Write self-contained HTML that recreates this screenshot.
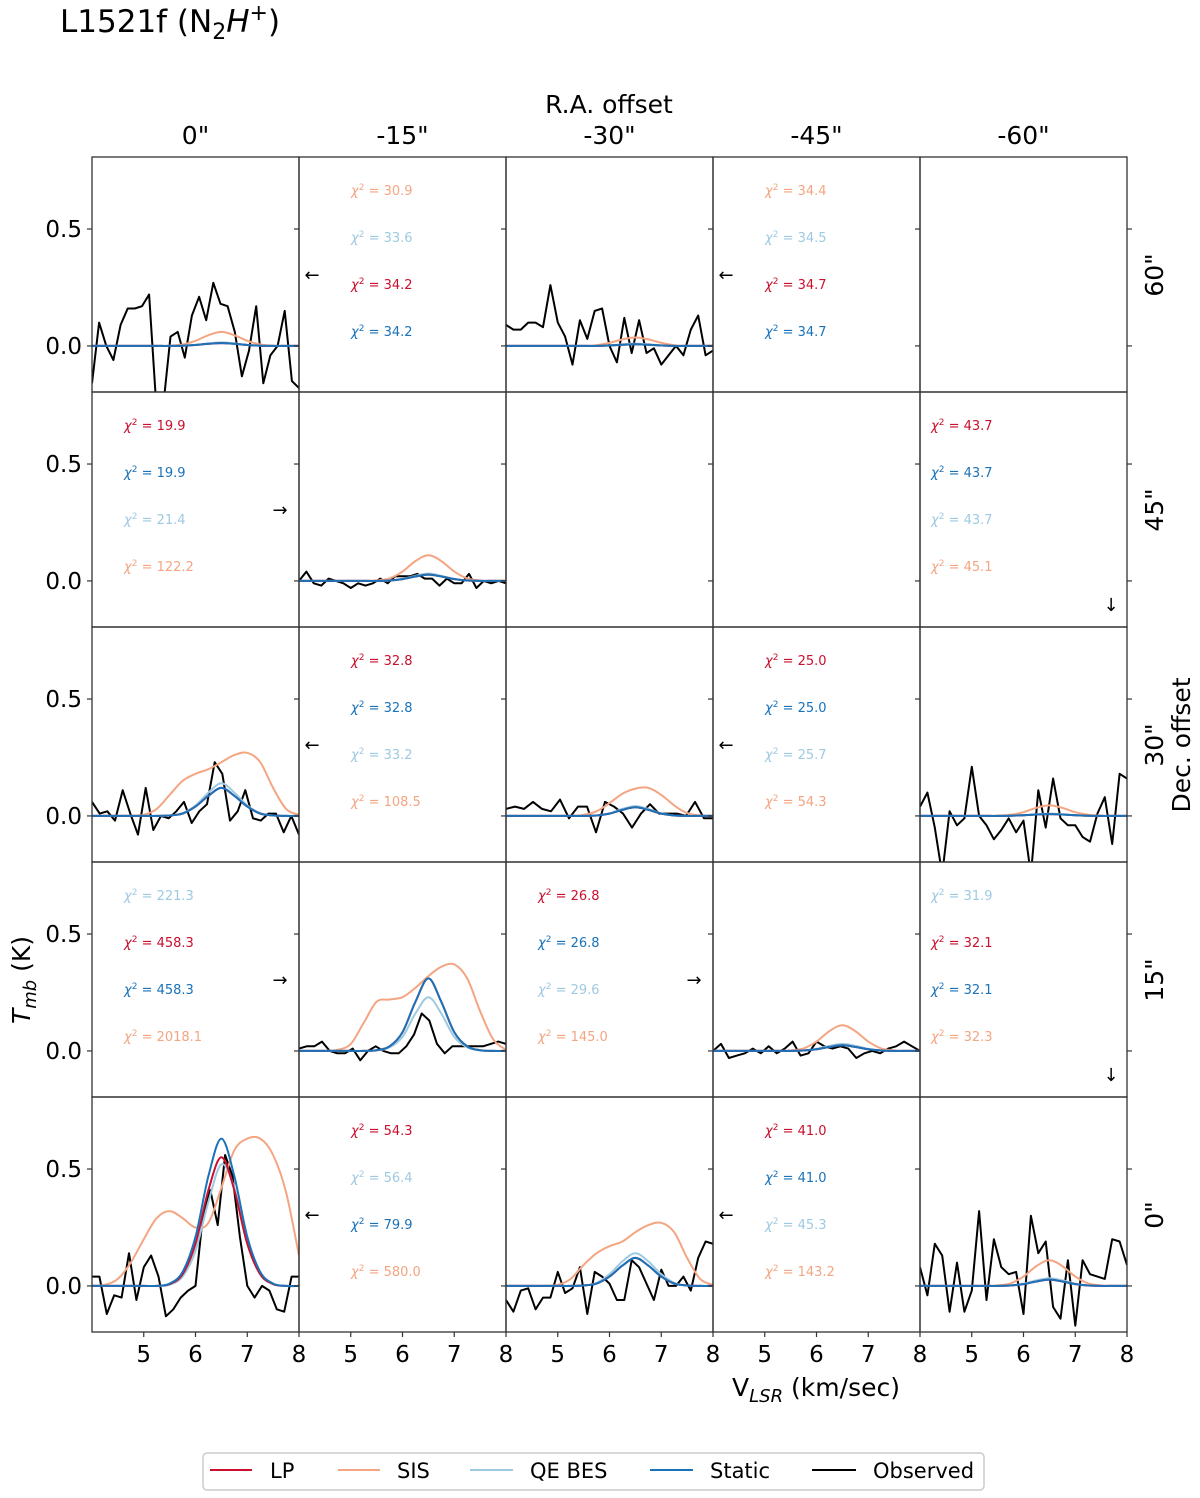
<!DOCTYPE html>
<html><head><meta charset="utf-8"><title>L1521f N2H+ spectra grid</title>
<style>
html,body{margin:0;padding:0;background:#fff;}
svg{display:block;font-family:"DejaVu Sans","Liberation Sans",sans-serif;}
</style></head>
<body>
<svg id="chart" width="1200" height="1498" viewBox="0 0 1200 1498" xmlns="http://www.w3.org/2000/svg">
<text x="60" y="32" font-size="31" fill="#000">L1521f (N<tspan font-size="22" dy="7">2</tspan><tspan dy="-7" font-style="italic">H</tspan><tspan font-size="22" dy="-12">+</tspan><tspan dy="12">)</tspan></text>
<text x="609" y="113" font-size="25" text-anchor="middle">R.A. offset</text>
<text x="1190" y="745" font-size="25" text-anchor="middle" transform="rotate(-90 1190 745)">Dec. offset</text>
<text x="816" y="1396" font-size="25" text-anchor="middle">V<tspan font-size="18" dy="6" font-style="italic">LSR</tspan><tspan dy="-6"> (km/sec)</tspan></text>
<text x="30" y="980" font-size="25" text-anchor="middle" transform="rotate(-90 30 980)"><tspan font-style="italic">T</tspan><tspan font-size="18" dy="6" font-style="italic">mb</tspan><tspan dy="-6"> (K)</tspan></text>
<g id="panels"></g>
<g>
<rect x="203" y="1453" width="781" height="37" rx="4" fill="#fff" stroke="#ccc" stroke-width="1.5"/>
<g><line x1="210" y1="1470" x2="252" y2="1470" stroke="#c9102e" stroke-width="2"/><text x="270" y="1478" font-size="21">LP</text></g>
<g><line x1="338" y1="1470" x2="380" y2="1470" stroke="#f4a582" stroke-width="2"/><text x="397" y="1478" font-size="21">SIS</text></g>
<g><line x1="470" y1="1470" x2="513" y2="1470" stroke="#9ecae1" stroke-width="2"/><text x="530" y="1478" font-size="21">QE BES</text></g>
<g><line x1="650" y1="1470" x2="693" y2="1470" stroke="#1a72b8" stroke-width="2"/><text x="710" y="1478" font-size="21">Static</text></g>
<g><line x1="812" y1="1470" x2="856" y2="1470" stroke="#000" stroke-width="2"/><text x="873" y="1478" font-size="21">Observed</text></g>
</g>
</svg>
<script>
// ---- data ----
const raLabels = ['0"','-15"','-30"','-45"','-60"'];
const decLabels = ['60"','45"','30"','15"','0"'];
const xTicks = [5,6,7,8];
const yTicks = [0.0,0.5];
const modelGrid = [4,4.25,4.5,4.75,5,5.25,5.5,5.75,6,6.25,6.5,6.75,7,7.25,7.5,7.75,8];

// observed spectra (evenly spaced over 4–8 km/s)
const obs_r0c0 = [-0.16,0.10,0.0,-0.06,0.09,0.16,0.16,0.17,0.22,-0.25,-0.25,0.04,0.06,-0.05,0.13,0.21,0.11,0.27,0.18,0.17,0.06,-0.13,-0.02,0.17,-0.16,-0.04,0.0,0.15,-0.15,-0.18];
const obs_r0c2 = [0.09,0.07,0.07,0.10,0.10,0.08,0.26,0.10,0.04,-0.08,0.11,0.03,0.15,0.16,0.0,-0.07,0.12,-0.03,0.11,-0.03,-0.01,-0.08,-0.04,0.0,-0.04,0.07,0.13,-0.04,-0.02];
const obs_r1c1 = [0.0,0.04,-0.01,-0.02,0.01,0.0,-0.01,-0.03,-0.01,-0.02,-0.01,0.01,-0.01,0.02,0.02,0.02,0.03,0.01,0.01,-0.02,0.01,-0.01,-0.01,0.03,-0.03,0.0,-0.01,0.0,-0.01];
const obs_r2c0 = [0.06,0.01,0.02,-0.02,0.11,0.01,-0.08,0.12,-0.06,0.0,-0.01,0.02,0.06,-0.03,0.02,0.05,0.23,0.18,-0.02,0.02,0.11,-0.01,-0.02,0.01,0.01,-0.07,0.0,-0.08];
const obs_r2c2 = [0.03,0.04,0.03,0.06,0.03,0.02,0.07,-0.01,0.04,0.04,-0.07,0.06,0.04,0.01,-0.05,0.01,0.05,0.01,0.01,0.01,0.0,0.06,-0.01,-0.01];
const obs_r2c4 = [0.04,0.10,-0.05,-0.25,0.02,-0.04,-0.01,0.21,0.0,-0.04,-0.10,-0.06,-0.01,-0.07,-0.02,-0.25,0.11,-0.05,0.16,-0.01,-0.04,-0.04,-0.09,-0.11,0.01,0.08,-0.12,0.18,0.16];
const obs_r3c1 = [0.01,0.02,0.02,0.04,0.0,-0.01,-0.01,0.01,-0.04,0.0,0.02,0.0,-0.01,-0.01,0.02,0.07,0.16,0.13,0.03,-0.01,0.02,0.02,0.02,0.02,0.02,0.03,0.04,0.03];
const obs_r3c3 = [0.0,0.03,-0.03,-0.02,-0.01,0.01,-0.01,0.02,-0.01,0.01,0.04,-0.02,-0.01,0.04,0.02,0.01,0.02,0.01,-0.03,-0.01,0.0,-0.01,0.01,0.02,0.04,0.02,0.0];
const obs_r4c0 = [0.04,0.04,-0.12,-0.04,-0.05,0.14,-0.06,0.08,0.13,0.04,-0.13,-0.10,-0.05,-0.02,0.0,0.30,0.41,0.26,0.56,0.47,0.21,0.0,-0.05,0.0,-0.02,-0.10,-0.11,0.04,0.04];
const obs_r4c2 = [-0.06,-0.11,-0.02,-0.01,-0.10,-0.05,-0.05,0.06,-0.03,-0.01,0.08,-0.12,0.06,0.04,0.01,-0.06,-0.06,0.11,0.08,0.01,-0.06,0.07,0.0,0.0,0.04,-0.02,0.12,0.19,0.18];
const obs_r4c4 = [0.08,-0.04,0.18,0.13,-0.11,0.10,-0.11,-0.02,0.32,-0.06,0.20,0.08,0.05,0.06,-0.12,0.30,0.14,0.19,-0.09,-0.14,0.11,-0.17,0.11,0.05,0.04,0.03,0.20,0.19,0.09];

// model spectra on modelGrid
const sis_r0c0 = [0,0,0,0,0,0,0.001,0.006,0.022,0.046,0.06,0.046,0.022,0.006,0.001,0,0];
const qe_r0c0  = [0,0,0,0,0,0,0,0.001,0.005,0.011,0.015,0.011,0.005,0.001,0,0,0];
const lp_r0c0  = [0,0,0,0,0,0,0,0.001,0.004,0.009,0.012,0.009,0.004,0.001,0,0,0];
const st_r0c0  = [0,0,0,0,0,0,0,0.001,0.004,0.009,0.012,0.009,0.004,0.001,0,0,0];
const sis_r0c2 = [0,0,0,0,0,0,0,0.003,0.013,0.028,0.036,0.028,0.013,0.003,0,0,0];
const qe_r0c2  = [0,0,0,0,0,0,0,0,0.003,0.007,0.01,0.007,0.003,0,0,0,0];
const lp_r0c2  = [0,0,0,0,0,0,0,0,0.002,0.005,0.007,0.005,0.002,0,0,0,0];
const st_r0c2  = [0,0,0,0,0,0,0,0,0.002,0.005,0.007,0.005,0.002,0,0,0,0];
const sis_r1c1 = [0,0,0,0,0,0,0.002,0.011,0.04,0.085,0.11,0.085,0.04,0.011,0.002,0,0];
const qe_r1c1  = [0,0,0,0,0,0,0,0.002,0.009,0.022,0.032,0.022,0.009,0.002,0,0,0];
const lp_r1c1  = [0,0,0,0,0,0,0,0.002,0.008,0.019,0.027,0.019,0.008,0.002,0,0,0];
const st_r1c1  = [0,0,0,0,0,0,0,0.002,0.008,0.019,0.027,0.019,0.008,0.002,0,0,0];
const sis_r2c0 = [0,0,0,0,0.005,0.03,0.09,0.15,0.18,0.2,0.23,0.26,0.27,0.23,0.12,0.03,0.005];
const qe_r2c0  = [0,0,0,0,0,0,0.002,0.012,0.045,0.1,0.14,0.1,0.045,0.012,0.002,0,0];
const lp_r2c0  = [0,0,0,0,0,0,0.002,0.01,0.04,0.086,0.12,0.086,0.04,0.01,0.002,0,0];
const st_r2c0  = [0,0,0,0,0,0,0.002,0.01,0.04,0.086,0.12,0.086,0.04,0.01,0.002,0,0];
const sis_r2c2 = [0,0,0,0,0,0,0.005,0.02,0.055,0.095,0.117,0.12,0.09,0.045,0.012,0.002,0];
const qe_r2c2  = [0,0,0,0,0,0,0,0.002,0.011,0.03,0.042,0.03,0.011,0.002,0,0,0];
const lp_r2c2  = [0,0,0,0,0,0,0,0.002,0.01,0.026,0.037,0.026,0.01,0.002,0,0,0];
const st_r2c2  = [0,0,0,0,0,0,0,0.002,0.01,0.026,0.037,0.026,0.01,0.002,0,0,0];
const sis_r2c4 = [0,0,0,0,0,0,0.001,0.005,0.016,0.035,0.045,0.035,0.016,0.005,0.001,0,0];
const qe_r2c4  = [0,0,0,0,0,0,0,0.001,0.003,0.007,0.01,0.007,0.003,0.001,0,0,0];
const lp_r2c4  = [0,0,0,0,0,0,0,0.001,0.003,0.006,0.008,0.006,0.003,0.001,0,0,0];
const st_r2c4  = [0,0,0,0,0,0,0,0.001,0.003,0.006,0.008,0.006,0.003,0.001,0,0,0];
const sis_r3c1 = [0,0,0,0.005,0.03,0.12,0.21,0.22,0.23,0.27,0.32,0.36,0.37,0.31,0.17,0.05,0.005];
const qe_r3c1  = [0,0,0,0,0,0,0.002,0.015,0.06,0.16,0.23,0.16,0.06,0.015,0.002,0,0];
const lp_r3c1  = [0,0,0,0,0,0,0.003,0.02,0.08,0.21,0.31,0.21,0.08,0.02,0.003,0,0];
const st_r3c1  = [0,0,0,0,0,0,0.003,0.02,0.08,0.21,0.31,0.21,0.08,0.02,0.003,0,0];
const sis_r3c3 = [0,0,0,0,0,0,0.002,0.011,0.04,0.085,0.11,0.085,0.04,0.011,0.002,0,0];
const qe_r3c3  = [0,0,0,0,0,0,0,0.002,0.009,0.022,0.03,0.022,0.009,0.002,0,0,0];
const lp_r3c3  = [0,0,0,0,0,0,0,0.002,0.007,0.017,0.024,0.017,0.007,0.002,0,0,0];
const st_r3c3  = [0,0,0,0,0,0,0,0.002,0.007,0.017,0.024,0.017,0.007,0.002,0,0,0];
const sis_r4c0 = [0,0.005,0.03,0.1,0.2,0.29,0.32,0.29,0.25,0.27,0.42,0.58,0.63,0.63,0.56,0.4,0.13];
const qe_r4c0  = [0,0,0,0,0,0,0.005,0.04,0.15,0.36,0.52,0.42,0.19,0.05,0.008,0,0];
const lp_r4c0  = [0,0,0,0,0,0,0.008,0.05,0.18,0.41,0.55,0.41,0.18,0.05,0.008,0,0];
const st_r4c0  = [0,0,0,0,0,0,0.01,0.06,0.21,0.47,0.63,0.47,0.21,0.06,0.01,0,0];
const sis_r4c2 = [0,0,0,0,0.005,0.03,0.09,0.14,0.17,0.19,0.23,0.26,0.27,0.23,0.12,0.03,0.005];
const qe_r4c2  = [0,0,0,0,0,0,0.002,0.013,0.05,0.105,0.14,0.105,0.05,0.013,0.002,0,0];
const lp_r4c2  = [0,0,0,0,0,0,0.002,0.01,0.04,0.087,0.12,0.087,0.04,0.01,0.002,0,0];
const st_r4c2  = [0,0,0,0,0,0,0.002,0.01,0.04,0.087,0.12,0.087,0.04,0.01,0.002,0,0];
const sis_r4c4 = [0,0,0,0,0,0,0.002,0.011,0.04,0.085,0.11,0.085,0.04,0.011,0.002,0,0];
const qe_r4c4  = [0,0,0,0,0,0,0,0.002,0.01,0.024,0.033,0.024,0.01,0.002,0,0,0];
const lp_r4c4  = [0,0,0,0,0,0,0,0.002,0.008,0.019,0.027,0.019,0.008,0.002,0,0,0];
const st_r4c4  = [0,0,0,0,0,0,0,0.002,0.008,0.019,0.027,0.019,0.008,0.002,0,0,0];

// chi-square annotations: [row, col, model, value]
const chiModels = [
 [0,1,'SIS','30.9'],[0,1,'QE','33.6'],[0,1,'LP','34.2'],[0,1,'ST','34.2'],
 [0,3,'SIS','34.4'],[0,3,'QE','34.5'],[0,3,'LP','34.7'],[0,3,'ST','34.7'],
 [1,0,'LP','19.9'],[1,0,'ST','19.9'],[1,0,'QE','21.4'],[1,0,'SIS','122.2'],
 [1,4,'LP','43.7'],[1,4,'ST','43.7'],[1,4,'QE','43.7'],[1,4,'SIS','45.1'],
 [2,1,'LP','32.8'],[2,1,'ST','32.8'],[2,1,'QE','33.2'],[2,1,'SIS','108.5'],
 [2,3,'LP','25.0'],[2,3,'ST','25.0'],[2,3,'QE','25.7'],[2,3,'SIS','54.3'],
 [3,0,'QE','221.3'],[3,0,'LP','458.3'],[3,0,'ST','458.3'],[3,0,'SIS','2018.1'],
 [3,2,'LP','26.8'],[3,2,'ST','26.8'],[3,2,'QE','29.6'],[3,2,'SIS','145.0'],
 [3,4,'QE','31.9'],[3,4,'LP','32.1'],[3,4,'ST','32.1'],[3,4,'SIS','32.3'],
 [4,1,'LP','54.3'],[4,1,'QE','56.4'],[4,1,'ST','79.9'],[4,1,'SIS','580.0'],
 [4,3,'LP','41.0'],[4,3,'ST','41.0'],[4,3,'QE','45.3'],[4,3,'SIS','143.2']
];
const arrows = [[0,1,'←'],[0,3,'←'],[1,0,'→'],[1,4,'↓'],[2,1,'←'],[2,3,'←'],[3,0,'→'],[3,2,'→'],[3,4,'↓'],[4,1,'←'],[4,3,'←']];

// ---- layout ----
const NS='http://www.w3.org/2000/svg';
const X0=92, Y0=157, PW=207, PH=235, VMIN=4, VMAX=8, TMIN=-0.197, TMAX=0.808;
const COL={LP:'#c9102e',SIS:'#f4a582',QE:'#9ecae1',ST:'#1a72b8'};
const root=document.getElementById('panels');
function mk(tag,attrs,parent){const e=document.createElementNS(NS,tag);for(const k in attrs)e.setAttribute(k,attrs[k]);(parent||root).appendChild(e);return e;}
function xs(c,v){return X0+c*PW+(v-VMIN)/(VMAX-VMIN)*PW;}
function ys(r,t){return Y0+r*PH+(TMAX-t)/(TMAX-TMIN)*PH;}
function linePath(r,c,vals){let d='';vals.forEach((t,i)=>{const v=VMIN+(VMAX-VMIN)*i/(vals.length-1);d+=(i?'L':'M')+xs(c,v).toFixed(1)+','+ys(r,t).toFixed(1);});return d;}
function smoothPath(r,c,vals){
  const p=vals.map((t,i)=>[xs(c,modelGrid[i]),ys(r,t)]);
  let d='M'+p[0][0].toFixed(1)+','+p[0][1].toFixed(1);
  for(let i=0;i<p.length-1;i++){const a=p[Math.max(0,i-1)],b=p[i],cc=p[i+1],e=p[Math.min(p.length-1,i+2)];
    const c1=[b[0]+(cc[0]-a[0])/6,b[1]+(cc[1]-a[1])/6],c2=[cc[0]-(e[0]-b[0])/6,cc[1]-(e[1]-b[1])/6];
    d+='C'+c1[0].toFixed(1)+','+c1[1].toFixed(1)+' '+c2[0].toFixed(1)+','+c2[1].toFixed(1)+' '+cc[0].toFixed(1)+','+cc[1].toFixed(1);}
  return d;}

const defs=mk('defs',{});
const dataMap={
 r0c0:[obs_r0c0,sis_r0c0,qe_r0c0,lp_r0c0,st_r0c0], r0c2:[obs_r0c2,sis_r0c2,qe_r0c2,lp_r0c2,st_r0c2],
 r1c1:[obs_r1c1,sis_r1c1,qe_r1c1,lp_r1c1,st_r1c1],
 r2c0:[obs_r2c0,sis_r2c0,qe_r2c0,lp_r2c0,st_r2c0], r2c2:[obs_r2c2,sis_r2c2,qe_r2c2,lp_r2c2,st_r2c2], r2c4:[obs_r2c4,sis_r2c4,qe_r2c4,lp_r2c4,st_r2c4],
 r3c1:[obs_r3c1,sis_r3c1,qe_r3c1,lp_r3c1,st_r3c1], r3c3:[obs_r3c3,sis_r3c3,qe_r3c3,lp_r3c3,st_r3c3],
 r4c0:[obs_r4c0,sis_r4c0,qe_r4c0,lp_r4c0,st_r4c0], r4c2:[obs_r4c2,sis_r4c2,qe_r4c2,lp_r4c2,st_r4c2], r4c4:[obs_r4c4,sis_r4c4,qe_r4c4,lp_r4c4,st_r4c4]
};

for(let r=0;r<5;r++){for(let c=0;c<5;c++){
  const px=X0+c*PW, py=Y0+r*PH, key='r'+r+'c'+c;
  const cp=mk('clipPath',{id:'clip-'+key},defs); mk('rect',{x:px,y:py,width:PW,height:PH},cp);
  const g=mk('g',{});
  
  
  const d=dataMap[key];
  if(d){
    const cg=mk('g',{'clip-path':'url(#clip-'+key+')'},g);
    const o=mk('path',{d:linePath(r,c,d[0]),fill:'none',stroke:'#000','stroke-width':2,'stroke-linejoin':'round'},cg);
    
    
    const order=[[1,'SIS'],[2,'QE'],[3,'LP'],[4,'ST']];
    order.forEach(([i,m])=>{
      const l=mk('path',{d:smoothPath(r,c,d[i]),fill:'none',stroke:COL[m],'stroke-width':2},cg);
      
      
    });
  }
  const fr=mk('rect',{x:px,y:py,width:PW,height:PH,fill:'none',stroke:'#333','stroke-width':1.3},g);
  
  
  yTicks.forEach(t=>{mk('line',{x1:px-5,x2:px,y1:ys(r,t),y2:ys(r,t),stroke:'#333','stroke-width':1.2},g);});
  if(r===4){xTicks.forEach(v=>{mk('line',{x1:xs(c,v),x2:xs(c,v),y1:py+PH,y2:py+PH+5,stroke:'#333','stroke-width':1.2},g);});}
}}
for(let r=0;r<5;r++){yTicks.forEach(t=>{mk('line',{x1:X0+5*PW,x2:X0+5*PW+5,y1:ys(r,t),y2:ys(r,t),stroke:'#333','stroke-width':1.2});});}

for(let r=0;r<5;r++){yTicks.forEach(t=>{
  const tx=mk('text',{x:82,y:ys(r,t)+8,'font-size':23,'text-anchor':'end'});tx.textContent=t.toFixed(1);
  
  
});}
for(let c=0;c<5;c++){xTicks.forEach(v=>{
  const tx=mk('text',{x:xs(c,v),y:1362,'font-size':23,'text-anchor':'middle'});tx.textContent=v;
  
  
});}
raLabels.forEach((s,c)=>{const tx=mk('text',{x:X0+c*PW+PW/2,y:144,'font-size':25,'text-anchor':'middle'});tx.textContent=s;
  
  });
decLabels.forEach((s,r)=>{const cx=1163, cy=Y0+r*PH+118;const tx=mk('text',{x:cx,y:cy,'font-size':25,'text-anchor':'middle',transform:'rotate(-90 '+cx+' '+cy+')'});tx.textContent=s;
  
  });

const chiX={0:32,1:52,2:32,3:52,4:11};
const slot={};
chiModels.forEach(([r,c,m,v])=>{
  const k=r+'-'+c; slot[k]=(slot[k]||0);
  const x=X0+c*PW+chiX[c], y=Y0+r*PH+38+slot[k]*47; slot[k]++;
  const tx=mk('text',{x:x,y:y,'font-size':13,fill:COL[m]});
  tx.innerHTML='<tspan font-style="italic">χ</tspan><tspan font-size="9" dy="-5">2</tspan><tspan dy="5"> = '+v+'</tspan>';
  
  
});
arrows.forEach(([r,c,a])=>{
  let x,y;
  if(a==='←'){x=X0+c*PW+13;y=Y0+r*PH+124;}
  else if(a==='→'){x=X0+c*PW+PW-19;y=Y0+r*PH+124;}
  else {x=X0+c*PW+PW-16;y=Y0+r*PH+219;}
  const tx=mk('text',{x:x,y:y,'font-size':18,'text-anchor':'middle'});tx.textContent=a;
  
  
});
</script>
</body></html>
